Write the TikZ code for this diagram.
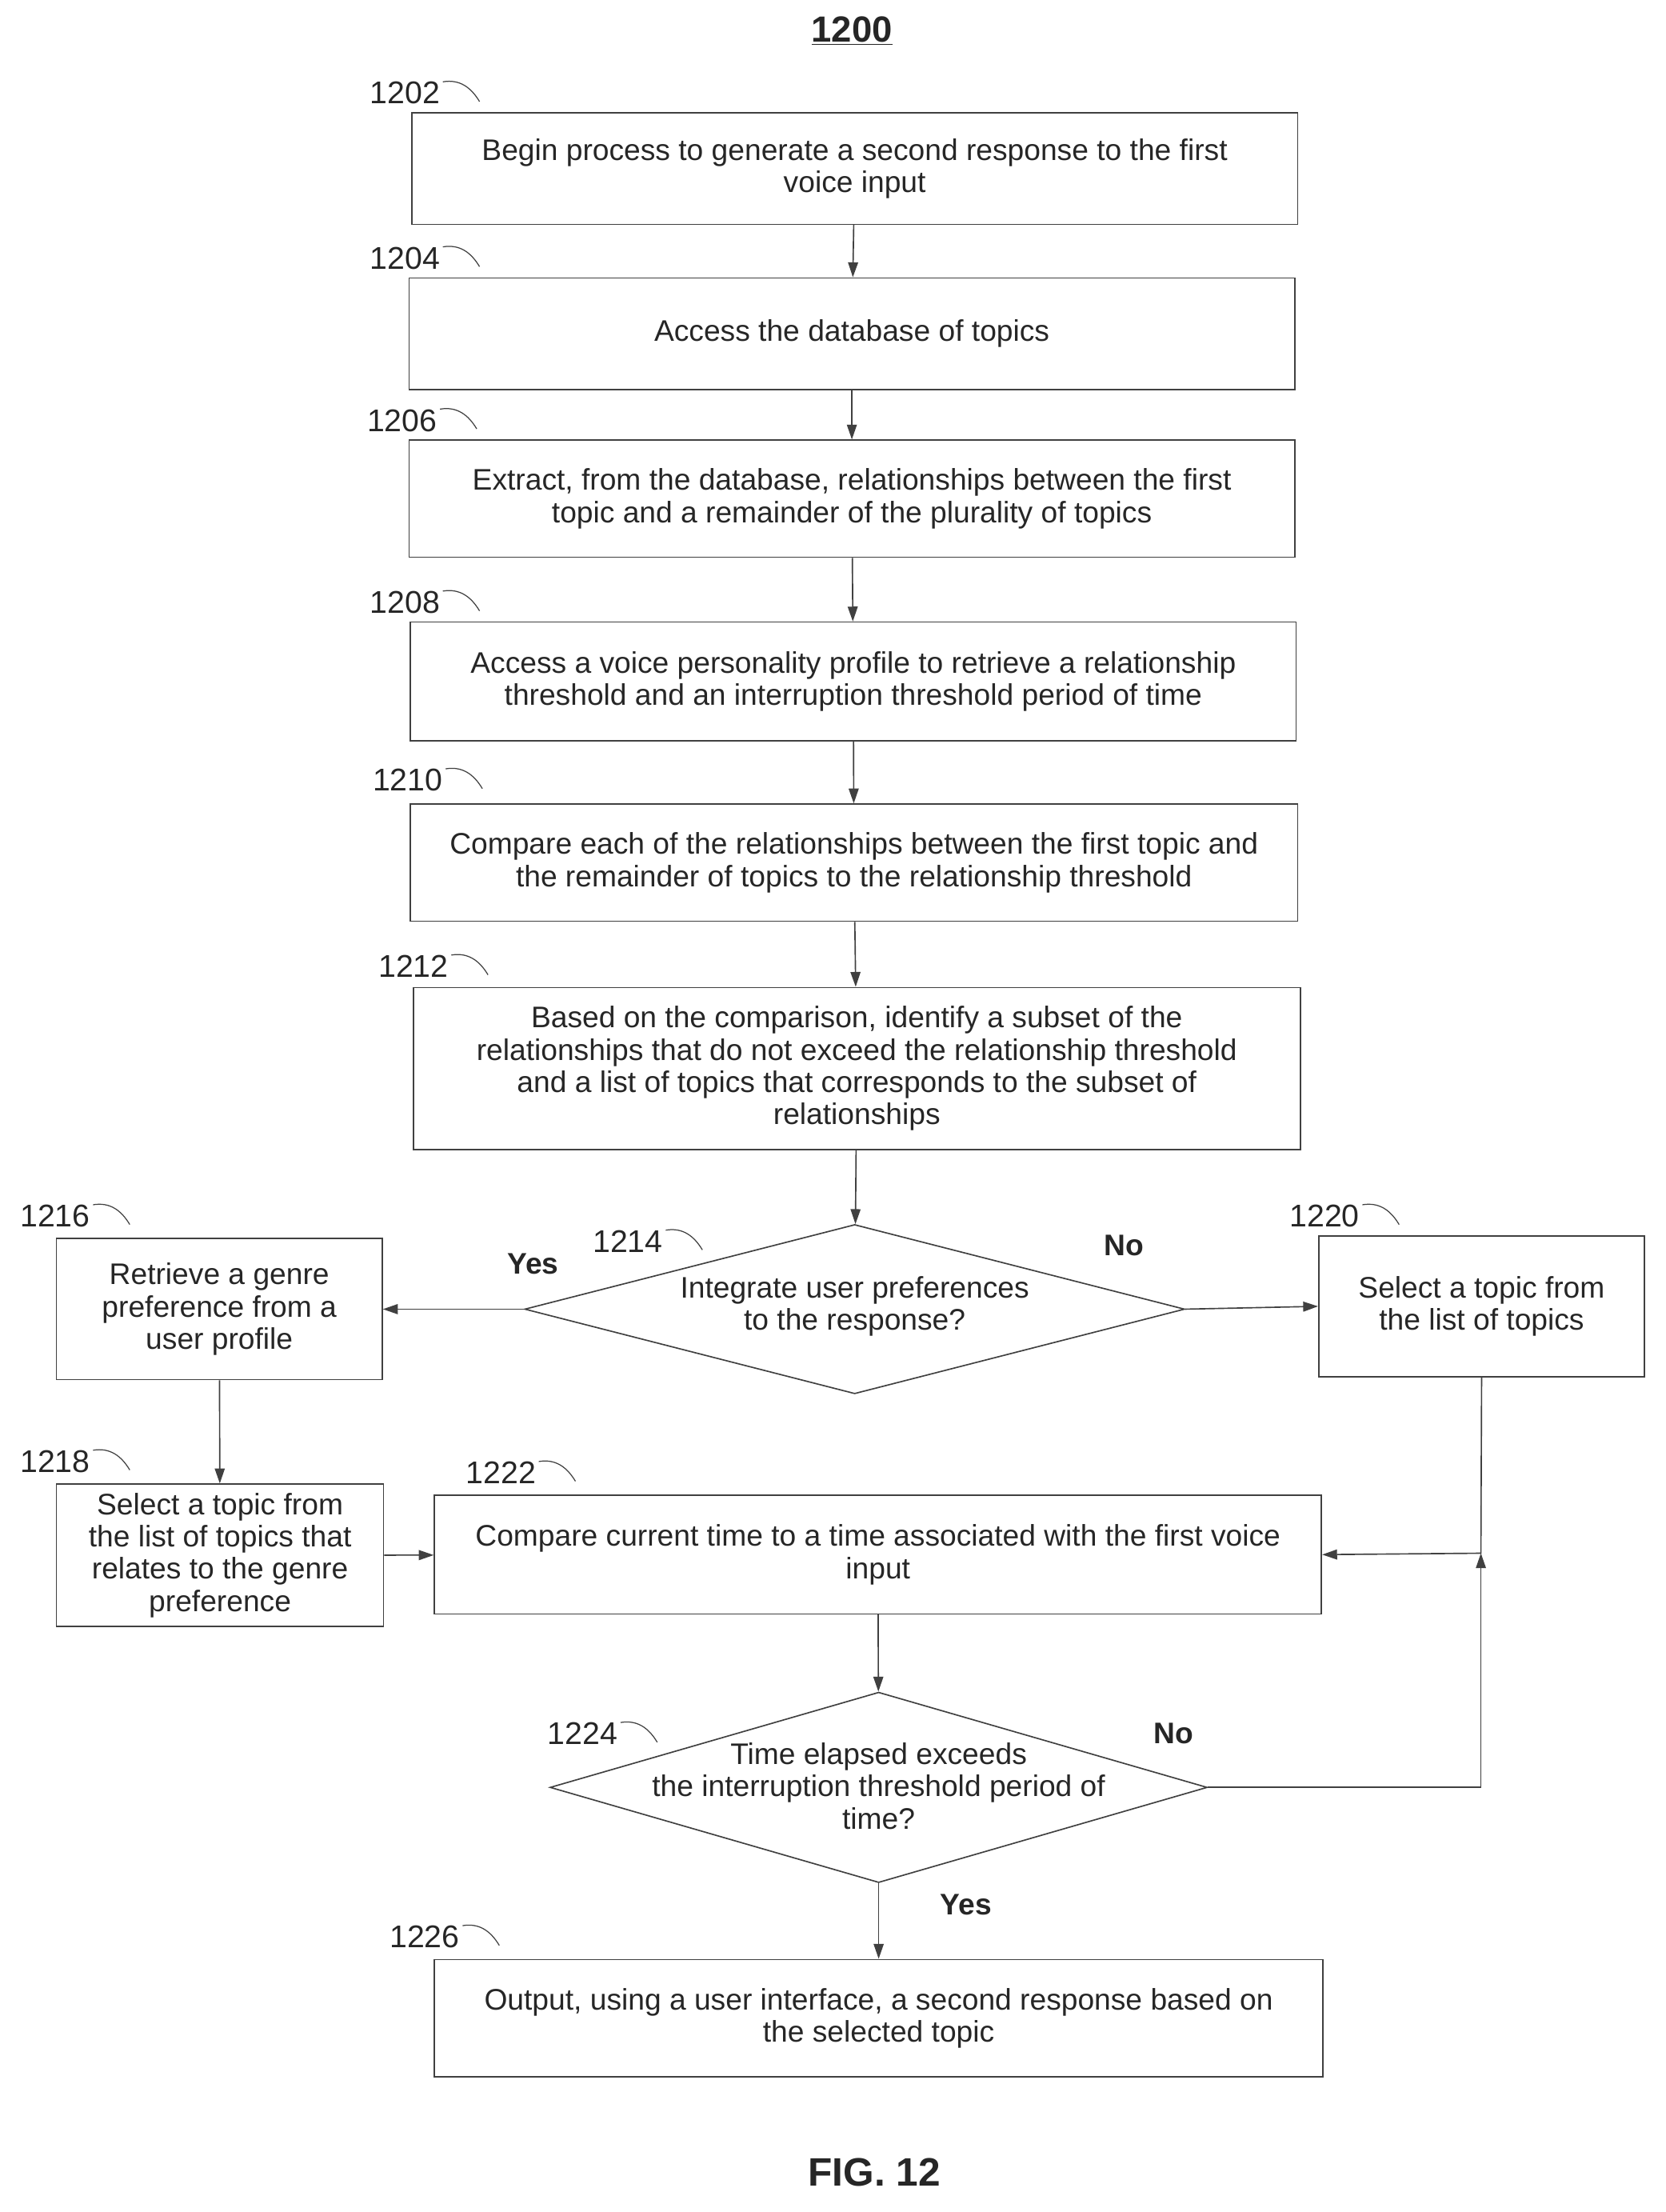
\documentclass[tikz,border=0pt]{standalone}
\usepackage{fontspec}
\setmainfont{Liberation Sans}
\usetikzlibrary{arrows.meta,shapes.geometric}
\begin{document}
\begin{tikzpicture}[x=0.03cm,y=-0.03cm,
  every node/.style={font=\fontsize{18}{19.5}\selectfont,text=black!85},
  box/.style={draw=black!75,line width=0.8pt,inner sep=0pt,align=center},
  arr/.style={draw=black!75,line width=0.8pt,-{Triangle[length=9pt,width=6pt]}},
  lbl/.style={font=\fontsize{19}{22}\selectfont},
  yn/.style={font=\bfseries\fontsize{18}{22}\selectfont}]
\useasboundingbox (0,0) rectangle (1181,1568);
\def\bx#1#2#3#4#5#6{\node[box,minimum width={(#3-#2)*0.03cm},minimum height={(#5-#4)*0.03cm}] (#1) at ({(#2+#3)/2},{(#4+#5)/2}) {#6};}
\def\tag#1#2#3{\node[lbl,anchor=east] at (#1,#2) {#3}; \draw[black!75,line width=0.6pt] (#1-2,#2-8) .. controls (#1+10,#2-10) and (#1+18,#2-4) .. (#1+24,#2+6);}
\node[font=\bfseries\fontsize{22}{26}\selectfont] (t) at (604,22) {\underline{1200}};
\bx{a}{292}{920}{80}{159}{Begin process to generate a second response to the first\\voice input}
\bx{b}{290}{918}{197}{276}{Access the database of topics}
\bx{c}{290}{918}{312}{395}{Extract, from the database, relationships between the first\\topic and a remainder of the plurality of topics}
\bx{d}{291}{919}{441}{525}{Access a voice personality profile to retrieve a relationship\\threshold and an interruption threshold period of time}
\bx{e}{291}{920}{570}{653}{Compare each of the relationships between the first topic and\\the remainder of topics to the relationship threshold}
\bx{f}{293}{922}{700}{815}{Based on the comparison, identify a subset of the\\relationships that do not exceed the relationship threshold\\and a list of topics that corresponds to the subset of\\relationships}
\node[box,diamond,minimum width=468*0.03cm,minimum height=120*0.03cm,aspect=3.9,inner sep=0pt] (g) at (606,928) {};
\node at (606,926) [align=center]{Integrate user preferences\\to the response?};
\bx{h}{40}{271}{878}{978}{Retrieve a genre\\preference from a\\user profile}
\bx{k}{935}{1166}{876}{976}{Select a topic from\\the list of topics}
\bx{i}{40}{272}{1052}{1153}{Select a topic from\\the list of topics that\\relates to the genre\\preference}
\bx{j}{308}{937}{1060}{1144}{Compare current time to a time associated with the first voice\\input}
\node[box,diamond,minimum width=466*0.03cm,minimum height=135*0.03cm,aspect=3.45,inner sep=0pt] (m) at (623,1267) {};
\node at (623,1266) [align=center]{Time elapsed exceeds\\the interruption threshold period of\\time?};
\bx{n}{308}{938}{1389}{1472}{Output, using a user interface, a second response based on\\the selected topic}
\node[font=\bfseries\fontsize{24}{28}\selectfont] (fig) at (620,1540) {FIG. 12};
\tag{316}{66}{1202}\tag{316}{183}{1204}\tag{314}{298}{1206}\tag{316}{427}{1208}\tag{318}{553}{1210}
\tag{322}{685}{1212}\tag{474}{880}{1214}\tag{68}{862}{1216}\tag{68}{1036}{1218}\tag{968}{862}{1220}
\tag{384}{1044}{1222}\tag{442}{1229}{1224}\tag{330}{1373}{1226}
\draw[arr] (a) -- (b); \draw[arr] (b) -- (c); \draw[arr] (c) -- (d); \draw[arr] (d) -- (e);
\draw[arr] (e) -- (f); \draw[arr] (f) -- (g);
\draw[arr] (g.west) -- (h.east); \draw[arr] (g.east) -- (k.west);
\draw[arr] (h) -- (i); \draw[arr] (i) -- (j);
\draw[arr] (j) -- (m); \draw[arr] (m) -- (n);
\coordinate (p) at (1050,1101);
\draw[arr] (k.south) -- (p) -- (j.east);
\draw[arr] (m.east) -| (p);
\node[yn] at (378,896) {Yes};
\node[yn] at (797,883) {No};
\node[yn] at (832,1229) {No};
\node[yn] at (685,1350) {Yes};
\end{tikzpicture}
\end{document}
